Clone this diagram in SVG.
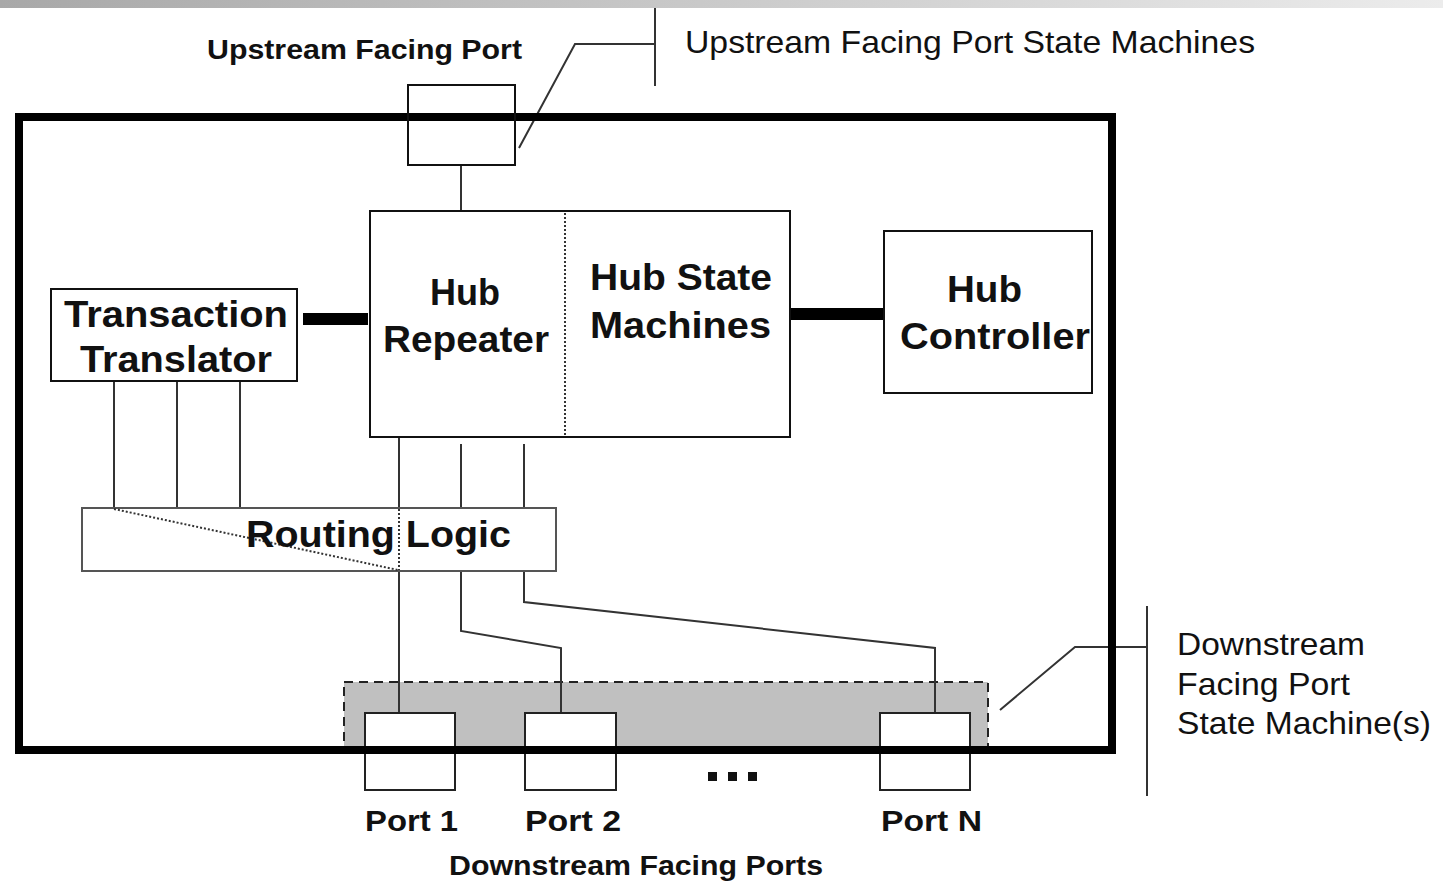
<svg xmlns="http://www.w3.org/2000/svg" width="1443" height="883" viewBox="0 0 1443 883">
  <defs>
    <linearGradient id="topBar" x1="0" y1="0" x2="1" y2="0">
      <stop offset="0" stop-color="#a8a8a8"/>
      <stop offset="1" stop-color="#ececec"/>
    </linearGradient>
    <style>
      .box { fill: #fff; stroke: #111; stroke-width: 2; }
      .port { fill: #fff; stroke: #222; stroke-width: 2; }
      .wire { fill: none; stroke: #333; stroke-width: 2; }
      .bus { fill: none; stroke: #000; stroke-width: 12; }
      .dots { fill: none; stroke: #333; stroke-width: 2; stroke-dasharray: 2 2; }
      .bold { font-family: "Liberation Sans", Arial, sans-serif; font-weight: bold; fill: #111; }
      .plain { font-family: "Liberation Sans", Arial, sans-serif; fill: #111; }
    </style>
  </defs>

  <rect width="1443" height="883" fill="#fff"/>
  <rect x="0" y="0" width="1443" height="8" fill="url(#topBar)"/>

  <!-- downstream state machine area (behind the hub outline) -->
  <g id="dfp-state-machines">
    <rect x="344" y="682" width="644" height="68" fill="#c0c0c0" stroke="#222" stroke-width="2" stroke-dasharray="9 6"/>
  </g>

  <!-- connectors -->
  <g id="connectors">
    <line class="wire" x1="461" y1="165" x2="461" y2="211"/>
    <line class="bus" x1="303" y1="319" x2="368" y2="319"/>
    <line class="bus" x1="790" y1="314" x2="890" y2="314"/>
    <line class="wire" x1="114" y1="381" x2="114" y2="508"/>
    <line class="wire" x1="177" y1="381" x2="177" y2="508"/>
    <line class="wire" x1="240" y1="381" x2="240" y2="508"/>
    <line class="wire" x1="399" y1="437" x2="399" y2="508"/>
    <line class="wire" x1="461" y1="444" x2="461" y2="508"/>
    <line class="wire" x1="524" y1="444" x2="524" y2="508"/>
    <line class="wire" x1="399" y1="571" x2="399" y2="713"/>
    <polyline class="wire" points="461,571 461,631 561,648 561,713"/>
    <polyline class="wire" points="524,571 524,602 935,648 935,713"/>
    <!-- callout leaders -->
    <polyline class="wire" points="519,148 575,44 655,44"/>
    <line class="wire" x1="655" y1="8" x2="655" y2="86"/>
    <polyline class="wire" points="1000,710 1075,647 1147,647"/>
    <line class="wire" x1="1147" y1="606" x2="1147" y2="796"/>
  </g>

  <g id="port-1">
    <rect class="port" x="365" y="713" width="90" height="77"/>
    <text class="bold" x="365" y="831" font-size="30" textLength="93" lengthAdjust="spacingAndGlyphs">Port 1</text>
  </g>
  <g id="port-2">
    <rect class="port" x="525" y="713" width="91" height="77"/>
    <text class="bold" x="525" y="831" font-size="30" textLength="96" lengthAdjust="spacingAndGlyphs">Port 2</text>
  </g>
  <g id="port-n">
    <rect class="port" x="880" y="713" width="90" height="77"/>
    <text class="bold" x="881" y="831" font-size="30" textLength="101" lengthAdjust="spacingAndGlyphs">Port N</text>
  </g>

  <!-- hub outline, drawn across the port boxes -->
  <g id="hub">
    <rect x="19" y="117" width="1093" height="633" fill="none" stroke="#000" stroke-width="8"/>
  </g>

  <g id="upstream-port">
    <rect x="408" y="85" width="107" height="80" fill="none" stroke="#111" stroke-width="2"/>
  </g>

  <g id="hub-repeater">
    <rect class="box" x="370" y="211" width="420" height="226"/>
    <line class="dots" x1="565" y1="213" x2="565" y2="436"/>
    <text class="bold" x="465" y="305" font-size="36" text-anchor="middle">Hub</text>
    <text class="bold" x="466" y="352" font-size="36" text-anchor="middle" textLength="166" lengthAdjust="spacingAndGlyphs">Repeater</text>
    <text class="bold" x="590" y="290" font-size="36" textLength="182" lengthAdjust="spacingAndGlyphs">Hub State</text>
    <text class="bold" x="590" y="338" font-size="36" textLength="181" lengthAdjust="spacingAndGlyphs">Machines</text>
  </g>

  <g id="transaction-translator">
    <rect class="box" x="51" y="289" width="246" height="92"/>
    <text class="bold" x="64" y="327" font-size="36" textLength="224" lengthAdjust="spacingAndGlyphs">Transaction</text>
    <text class="bold" x="80" y="372" font-size="36" textLength="192" lengthAdjust="spacingAndGlyphs">Translator</text>
  </g>

  <g id="hub-controller">
    <rect class="box" x="884" y="231" width="208" height="162"/>
    <text class="bold" x="947" y="302" font-size="36" textLength="75" lengthAdjust="spacingAndGlyphs">Hub</text>
    <text class="bold" x="900" y="349" font-size="36" textLength="190" lengthAdjust="spacingAndGlyphs">Controller</text>
  </g>

  <g id="routing-logic">
    <rect x="82" y="508" width="474" height="63" fill="#fff" stroke="#555" stroke-width="2"/>
    <line class="dots" x1="114" y1="509" x2="398" y2="570"/>
    <line class="dots" x1="399" y1="509" x2="399" y2="570"/>
    <text class="bold" x="246" y="547" font-size="36" textLength="265" lengthAdjust="spacingAndGlyphs">Routing Logic</text>
  </g>

  <!-- ellipsis between port 2 and port N -->
  <g id="ellipsis" fill="#111">
    <rect x="708" y="772" width="9" height="9"/>
    <rect x="728" y="772" width="9" height="9"/>
    <rect x="748" y="772" width="9" height="9"/>
  </g>

  <g id="labels">
    <text class="bold" x="207" y="59" font-size="27" textLength="315" lengthAdjust="spacingAndGlyphs">Upstream Facing Port</text>
    <text class="plain" x="685" y="53" font-size="32" textLength="570" lengthAdjust="spacingAndGlyphs">Upstream Facing Port State Machines</text>
    <text class="bold" x="449" y="875" font-size="28" textLength="374" lengthAdjust="spacingAndGlyphs">Downstream Facing Ports</text>
    <text class="plain" x="1177" y="655" font-size="32" textLength="188" lengthAdjust="spacingAndGlyphs">Downstream</text>
    <text class="plain" x="1177" y="695" font-size="32" textLength="173" lengthAdjust="spacingAndGlyphs">Facing Port</text>
    <text class="plain" x="1177" y="734" font-size="32" textLength="254" lengthAdjust="spacingAndGlyphs">State Machine(s)</text>
  </g>
</svg>
